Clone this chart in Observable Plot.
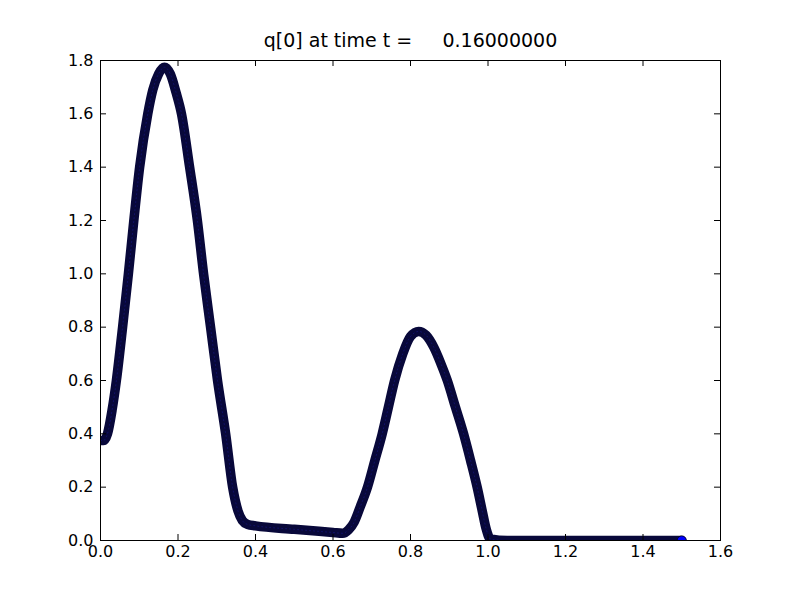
<!DOCTYPE html>
<html>
<head>
<meta charset="utf-8">
<script src="https://cdn.jsdelivr.net/npm/d3@7"></script>
<script src="https://cdn.jsdelivr.net/npm/@observablehq/plot@0.6"></script>
<style>
  html, body { margin: 0; padding: 0; background: #fff; }
  #chart { width: 800px; height: 600px; }
</style>
</head>
<body>
<div id="chart"></div>
<script>
// Values
const xs = [0.000, 0.008, 0.018, 0.030, 0.041, 0.057, 0.072, 0.086, 0.101, 0.122, 0.135, 0.150, 0.165,
            0.180, 0.195, 0.209, 0.230, 0.250, 0.266, 0.284, 0.302, 0.323, 0.341, 0.355, 0.366, 0.380,
            0.400, 0.500, 0.600, 0.625, 0.640, 0.655, 0.670, 0.689, 0.708, 0.727, 0.743, 0.759, 0.780,
            0.800, 0.821, 0.840, 0.860, 0.878, 0.895, 0.916, 0.937, 0.955, 0.972, 0.985, 0.995, 1.006,
            1.050, 1.200, 1.350, 1.500];
const qs = [0.375, 0.375, 0.400, 0.490, 0.600, 0.800, 1.000, 1.200, 1.400, 1.600, 1.690, 1.750, 1.775,
            1.750, 1.680, 1.600, 1.400, 1.200, 1.000, 0.800, 0.600, 0.400, 0.200, 0.110, 0.075, 0.060,
            0.055, 0.042, 0.030, 0.027, 0.040, 0.070, 0.125, 0.200, 0.300, 0.400, 0.500, 0.600, 0.700,
            0.765, 0.784, 0.770, 0.725, 0.665, 0.600, 0.500, 0.400, 0.300, 0.200, 0.112, 0.045, 0.006,
            0.000, 0.000, 0.000, 0.000];
const xTicks = [0.0, 0.2, 0.4, 0.6, 0.8, 1.0, 1.2, 1.4, 1.6];
const yTicks = [0.0, 0.2, 0.4, 0.6, 0.8, 1.0, 1.2, 1.4, 1.6, 1.8];
const titleText = "q[0] at time t =     0.16000000";

const data = xs.map((x, i) => ({x, q: qs[i]}));
const last = [data[data.length - 1]];

const W = 800, H = 600;
const mL = 100, mR = 80, mT = 60, mB = 60;
const fw = W - mL - mR, fh = H - mT - mB;
const tick = 6;

const chart = Plot.plot({
  width: W,
  height: H,
  marginLeft: mL,
  marginRight: mR,
  marginTop: mT,
  marginBottom: mB,
  style: {fontFamily: "'DejaVu Sans', sans-serif", fontSize: "16px", color: "#000", background: "#fff"},
  x: {domain: [0, 1.6], axis: null, label: null},
  y: {domain: [0, 1.8], axis: null, label: null},
  marks: [
    Plot.line(data, {x: "x", y: "q", stroke: "#08083a", strokeWidth: 9.5, curve: "monotone-x",
      strokeLinecap: "round", strokeLinejoin: "round", clip: true}),
    Plot.line(data, {x: "x", y: "q", stroke: "#2020c0", strokeWidth: 1, strokeOpacity: 0.35, curve: "monotone-x",
      strokeDasharray: "1,3", clip: true}),
    Plot.dot(last, {x: "x", y: "q", r: 4.6, fill: "#0000ff", stroke: "#000", strokeWidth: 0.7, clip: true}),
    Plot.frame({stroke: "#000", strokeWidth: 1}),
    Plot.tickX(xTicks, {x: d => d, insetTop: fh - tick, stroke: "#000"}),
    Plot.tickX(xTicks, {x: d => d, insetBottom: fh - tick, stroke: "#000"}),
    Plot.tickY(yTicks, {y: d => d, insetRight: fw - tick, stroke: "#000"}),
    Plot.tickY(yTicks, {y: d => d, insetLeft: fw - tick, stroke: "#000"}),
    Plot.axisX({ticks: xTicks, tickSize: 0, tickPadding: 5, tickFormat: d3.format(".1f"), fontSize: 16, label: null}),
    Plot.axisY({ticks: yTicks, tickSize: 0, tickPadding: 7, tickFormat: d3.format(".1f"), fontSize: 16, label: null}),
    Plot.text([titleText], {text: d => d, frameAnchor: "top", dy: -14, fontSize: 19, lineAnchor: "bottom"})
  ]
});
document.getElementById("chart").appendChild(chart);
</script>
</body>
</html>
